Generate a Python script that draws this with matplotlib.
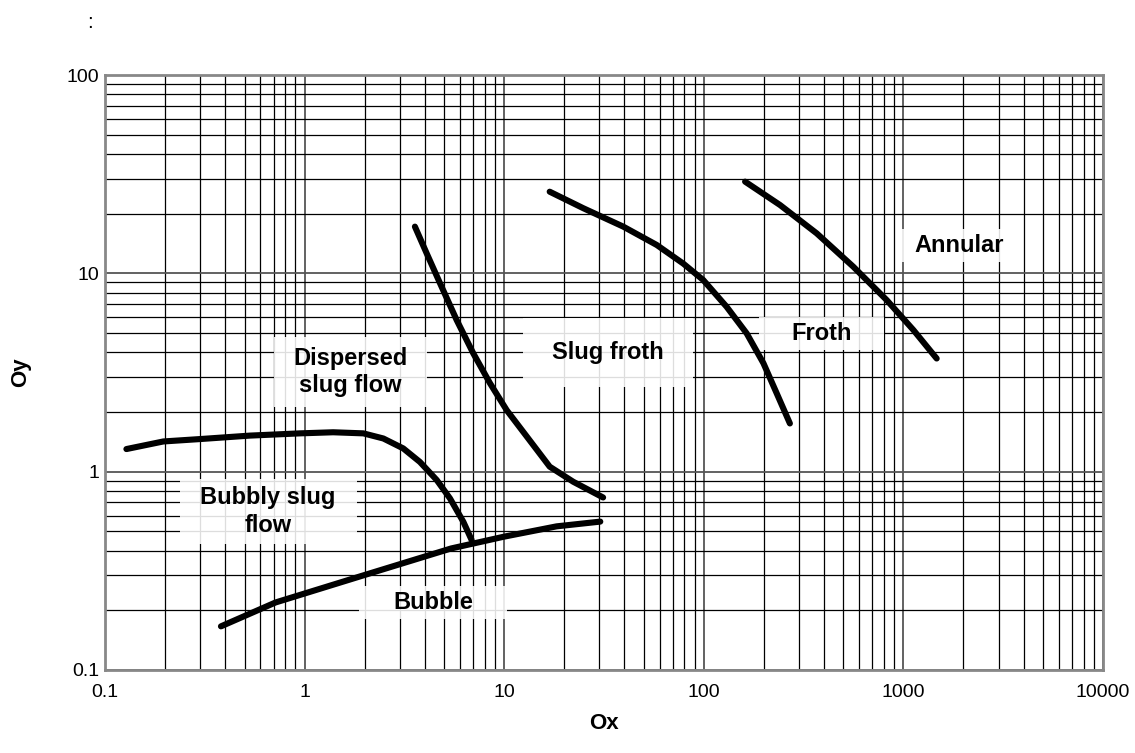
#!/usr/bin/python3
# flow regime map, log-log
import numpy as np
import matplotlib
matplotlib.use("Agg")
from matplotlib import pyplot as plt
from matplotlib.patches import Rectangle
from matplotlib.transforms import IdentityTransform
from matplotlib.ticker import LogLocator, NullFormatter, FixedLocator, FixedFormatter

plt.rcParams['font.family'] = ['Liberation Sans', 'DejaVu Sans']

# boundary curves (Ox, Oy)
disp_x = [0.128, 0.196, 0.299, 0.532, 0.948, 1.39, 1.97, 2.48, 3.12, 3.78,
          4.59, 5.35, 6.24, 6.87]
disp_y = [1.30, 1.42, 1.46, 1.52, 1.56, 1.58, 1.56, 1.47, 1.31, 1.12,
          0.908, 0.733, 0.559, 0.452]

bubble_x = [0.381, 0.715, 1.97, 5.42, 9.96, 18.3, 30.3]
bubble_y = [0.166, 0.219, 0.30, 0.41, 0.47, 0.53, 0.56]

slug_x = [3.57, 4.09, 4.77, 5.78, 7.0, 8.49, 10.3, 13.0, 16.9, 22.2, 31.3]
slug_y = [17.2, 12.6, 8.91, 5.81, 3.95, 2.79, 2.04, 1.50, 1.06, 0.889, 0.741]

froth_x = [16.9, 24.9, 39.5, 58.1, 78.9, 99.4, 130, 164, 199, 232, 270]
froth_y = [25.8, 21.3, 17.2, 13.9, 11.2, 9.25, 6.79, 4.98, 3.52, 2.48, 1.75]

annular_x = [161, 241, 368, 561, 825, 1122, 1468]
annular_y = [29.0, 22.1, 15.9, 10.8, 7.33, 5.18, 3.72]

# region labels
labels = ["Dispersed\nslug flow", "Slug froth", "Froth", "Annular",
          "Bubbly slug\nflow", "Bubble"]
label_x = [1.69, 33.0, 391, 1900, 0.657, 4.39]
label_y = [3.18, 4.0, 5.0, 13.8, 0.63, 0.22]

xticks = [0.1, 1, 10, 100, 1000, 10000]
xtick_labels = ["0.1", "1", "10", "100", "1000", "10000"]
yticks = [0.1, 1, 10, 100]
ytick_labels = ["0.1", "1", "10", "100"]


def main():
    fig = plt.figure(figsize=(11.35, 7.53), dpi=100)
    ax = fig.add_axes([105 / 1135, 83 / 753, 998 / 1135, 595 / 753])

    ax.set_xscale('log')
    ax.set_yscale('log')
    ax.set_xlim(0.1, 10000)
    ax.set_ylim(0.1, 100)

    # grid on every minor and major decade line
    ax.xaxis.set_minor_locator(LogLocator(base=10, subs=np.arange(2, 10)))
    ax.yaxis.set_minor_locator(LogLocator(base=10, subs=np.arange(2, 10)))
    ax.xaxis.set_minor_formatter(NullFormatter())
    ax.yaxis.set_minor_formatter(NullFormatter())
    ax.xaxis.set_major_locator(FixedLocator(xticks))
    ax.xaxis.set_major_formatter(FixedFormatter(xtick_labels))
    ax.yaxis.set_major_locator(FixedLocator(yticks))
    ax.yaxis.set_major_formatter(FixedFormatter(ytick_labels))
    ax.grid(True, which='major', color='#555555', linewidth=1.3)
    ax.grid(True, which='minor', color='black', linewidth=0.9)
    ax.set_axisbelow(True)

    ax.tick_params(which='both', length=0)
    ax.tick_params(axis='x', pad=10, labelsize=14)
    ax.tick_params(axis='y', pad=4, labelsize=14)

    for s in ax.spines.values():
        s.set_color('#888888')
        s.set_linewidth(2)

    curves = [(disp_x, disp_y), (bubble_x, bubble_y), (slug_x, slug_y),
              (froth_x, froth_y), (annular_x, annular_y)]
    for cx, cy in curves:
        ax.plot(cx, cy, color='black', linewidth=4.4,
                solid_capstyle='round', solid_joinstyle='round', zorder=3)

    # text boxes, sizes in pixels
    box_sizes = [(153, 70), (170, 69), (125, 33), (121, 33), (177, 65), (148, 33)]
    for txt, lx, ly, (bw, bh) in zip(labels, label_x, label_y, box_sizes):
        cx, cy = ax.transData.transform((lx, ly))
        ax.add_patch(Rectangle((cx - bw / 2, cy - bh / 2), bw, bh,
                               transform=IdentityTransform(), facecolor='white',
                               edgecolor='none', alpha=0.87, zorder=2.5))
        ax.text(lx, ly, txt, ha='center', va='center', fontsize=17,
                fontweight='bold', zorder=4, linespacing=1.25)

    ax.set_xlabel("Ox", fontsize=16, fontweight='bold', labelpad=9)
    ax.set_ylabel("Oy", fontsize=16, fontweight='bold', labelpad=26)

    fig.text(90 / 1135, 1 - 22 / 753, ":", fontsize=15, ha='center', va='center')

    fig.savefig("out.png", dpi=100)


if __name__ == '__main__':
    main()
